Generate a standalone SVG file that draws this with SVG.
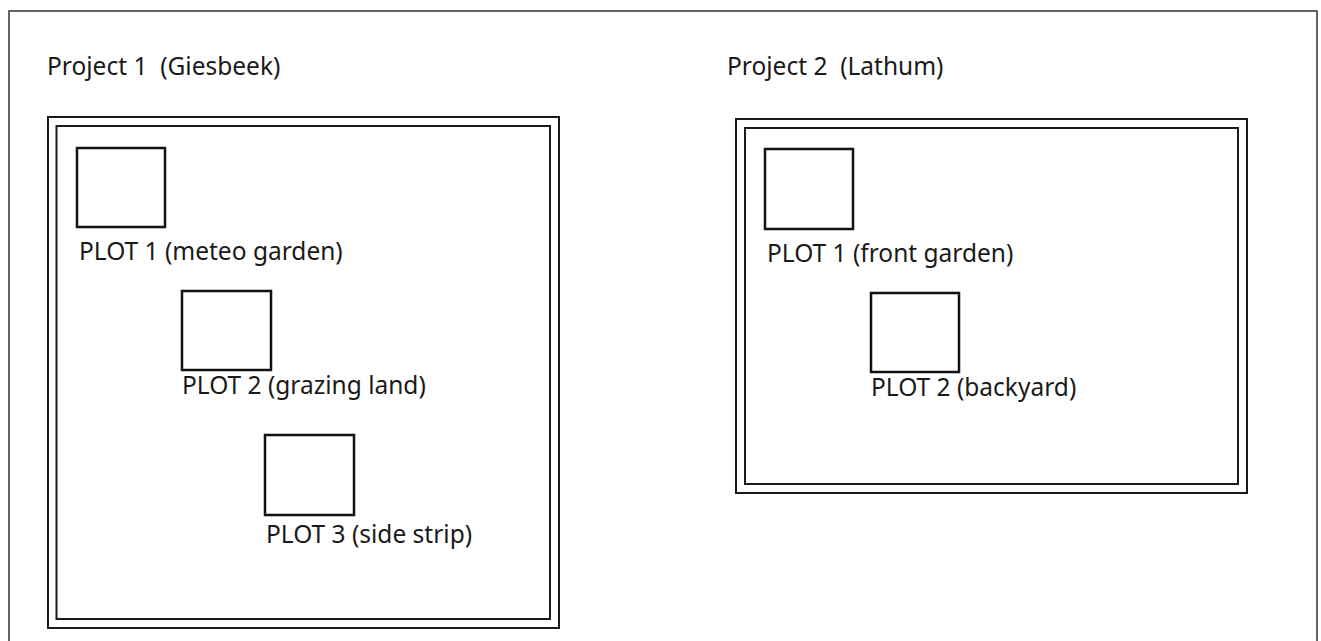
<svg xmlns="http://www.w3.org/2000/svg" width="1321" height="641" viewBox="0 0 1321 641">
<style>
.frame{fill:none;stroke:#333;stroke-width:1.5}
.proj{fill:none;stroke:#1a1a1a;stroke-width:2}
.plot{fill:none;stroke:#111;stroke-width:2.5}
text{font-family:"Noto Sans","Open Sans",sans-serif;font-size:24.5px;fill:#1a1a1a;white-space:pre}
</style>
<rect width="1321" height="641" fill="#fff"/>
<rect class="frame" x="9" y="11" width="1308" height="640"/>
<g id="project1">
<text x="47" y="75" xml:space="preserve">Project 1  (Giesbeek)</text>
<rect class="proj" x="48" y="117" width="511" height="511"/>
<rect class="proj" x="56.5" y="126" width="493.5" height="493"/>
</g>
<g id="p1plot1">
<rect class="plot" x="77" y="148" width="88" height="79"/>
<text x="79" y="260">PLOT 1 (meteo garden)</text>
</g>
<g id="p1plot2">
<rect class="plot" x="182" y="291" width="89" height="79"/>
<text x="182" y="394">PLOT 2 (grazing land)</text>
</g>
<g id="p1plot3">
<rect class="plot" x="265" y="435" width="89" height="80"/>
<text x="266" y="543">PLOT 3 (side strip)</text>
</g>
<g id="project2">
<text x="727" y="75" xml:space="preserve">Project 2  (Lathum)</text>
<rect class="proj" x="736" y="119" width="511" height="374"/>
<rect class="proj" x="745" y="128" width="493" height="356"/>
</g>
<g id="p2plot1">
<rect class="plot" x="765" y="149" width="88" height="80"/>
<text x="767" y="262">PLOT 1 (front garden)</text>
</g>
<g id="p2plot2">
<rect class="plot" x="871" y="293" width="88" height="79"/>
<text x="871" y="396">PLOT 2 (backyard)</text>
</g>
<g id="connectors"/>
</svg>
